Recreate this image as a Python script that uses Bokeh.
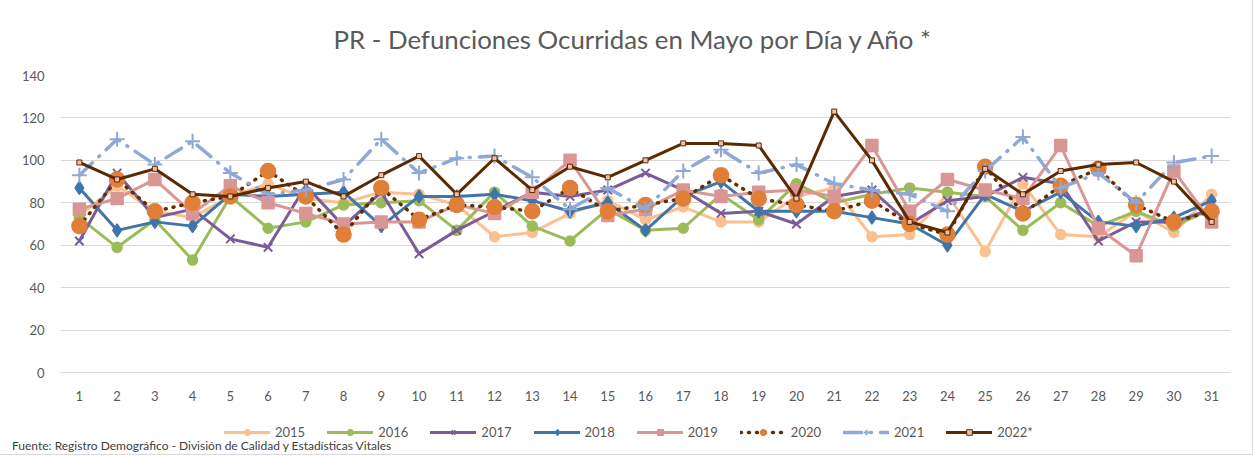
from bokeh.plotting import figure
from bokeh.layouts import column
from bokeh.models import Range1d, Legend, LegendItem, FixedTicker, Div
from bokeh.embed import file_html
from bokeh.resources import INLINE

days = list(range(1, 32))
y_ticks = [0, 20, 40, 60, 80, 100, 120, 140]

s2015 = [74, 88, 76, 73, 83, 89, 82, 80, 85, 84, 79, 64, 66, 75, 81, 72, 78, 71, 71, 83, 87, 64, 65, 84, 57, 89, 65, 64, 76, 66, 84]
s2016 = [73, 59, 72, 53, 83, 68, 71, 79, 80, 81, 67, 85, 69, 62, 77, 67, 68, 84, 72, 89, 80, 84, 87, 85, 83, 67, 80, 69, 76, 69, 77]
s2017 = [62, 94, 73, 77, 63, 59, 88, 69, 85, 56, 67, 76, 85, 83, 86, 94, 86, 75, 76, 70, 83, 86, 70, 81, 83, 92, 89, 62, 71, 71, 77]
s2018 = [87, 67, 71, 69, 84, 83, 84, 85, 69, 83, 83, 84, 81, 76, 80, 67, 83, 90, 76, 76, 76, 73, 70, 60, 84, 76, 85, 71, 69, 73, 81]
s2019 = [77, 82, 91, 75, 88, 80, 75, 70, 71, 71, 79, 75, 85, 100, 74, 77, 86, 83, 85, 86, 83, 107, 76, 91, 86, 82, 107, 68, 55, 95, 71]
s2020 = [69, 91, 76, 80, 83, 95, 83, 65, 87, 72, 79, 78, 76, 87, 76, 79, 82, 93, 82, 79, 76, 81, 70, 65, 97, 75, 88, 96, 79, 71, 76]
s2021 = [93, 110, 98, 109, 94, 84, 86, 91, 110, 94, 101, 102, 92, 77, 87, 77, 95, 105, 94, 98, 89, 86, 84, 76, 95, 111, 87, 94, 80, 99, 102]
s2022 = [99, 91, 96, 84, 83, 87, 90, 83, 93, 102, 84, 101, 86, 97, 92, 100, 108, 108, 107, 82, 123, 100, 71, 66, 96, 84, 95, 98, 99, 90, 71]
source_note = "Fuente: Registro Demográfico - División de Calidad y Estadísticas Vitales"

FONT = "Lato"
GRAY = "#595959"

p = figure(frame_width=1170, frame_height=297, output_backend="svg", toolbar_location=None,
           x_range=Range1d(0.5, 31.5), y_range=Range1d(0, 140),
           min_border_left=60, min_border_right=22, min_border_top=75, min_border_bottom=38)
p.outline_line_color = None
p.background_fill_color = "white"
p.border_fill_color = "white"

p.title.text = "PR - Defunciones Ocurridas en Mayo por Día y Año *"
p.title.align = "left"
p.title.text_font = FONT
p.title.text_font_size = "25.8px"
p.title.text_font_style = "normal"
p.title.text_color = GRAY
p.title.offset = 273
p.title.standoff = 43

p.xaxis.ticker = FixedTicker(ticks=days)
p.yaxis.ticker = FixedTicker(ticks=y_ticks)
for ax in (p.xaxis, p.yaxis):
    ax.major_tick_line_color = None
    ax.minor_tick_line_color = None
    ax.major_label_text_font = FONT
    ax.major_label_text_font_size = "13px"
    ax.major_label_text_color = GRAY
p.yaxis.axis_line_color = None
p.xaxis.axis_line_color = "#d9d9d9"
p.yaxis.major_label_standoff = 10
p.xaxis.major_label_standoff = 12
p.xgrid.grid_line_color = None
p.ygrid.grid_line_color = "#d9d9d9"

# legend strip: its own small figure; the same series are plotted there but fall
# outside its ranges, so only the legend is visible
lg = figure(frame_width=1252, frame_height=30, output_backend="svg", toolbar_location=None,
            x_range=Range1d(100, 101), y_range=Range1d(1000, 1001),
            x_axis_location=None, y_axis_location=None, min_border=0)
lg.outline_line_color = None
lg.xgrid.grid_line_color = None
lg.ygrid.grid_line_color = None

items = []

def series(vals, label, color, lw, dash, marker, msize, mfill, mline, mlw=1.5):
    for fig in (p, lg):
        r = [fig.line(days, vals, line_color=color, line_width=lw, line_dash=dash, line_cap="round", line_join="round")]
        if marker:
            r.append(fig.scatter(days, vals, marker=marker, size=msize, fill_color=mfill, line_color=mline, line_width=mlw))
    items.append(LegendItem(label=label, renderers=r))

series(s2015, "2015", "#FAC090", 3, "solid", "circle", 10, "#FAC090", "#FAC090")
series(s2016, "2016", "#9BBB59", 3, "solid", "circle", 10, "#9BBB59", "#9BBB59")
series(s2017, "2017", "#7A5C99", 3, "solid", "x", 12, None, "#7A5C99", 2)
series(s2018, "2018", "#4174AA", 3, "solid", "diamond", 13, "#4174AA", "#4174AA")
series(s2019, "2019", "#DA9694", 3, "solid", "square", 12, "#DA9694", "#DA9694")
series(s2020, "2020", "#632E00", 3.5, "1 7", "circle", 15, "#E07F38", "#E07F38")
series(s2021, "2021", "#8EA9D8", 3.5, "18 9 1 9", "cross", 15, None, "#8EA9D8", 2)
series(s2022, "2022*", "#5C2A00", 3, "solid", "square", 5, "#F2C0A8", "#5C2A00", 1)

legend = Legend(items=items, orientation="horizontal", location=(224, 0),
                label_text_font=FONT, label_text_font_size="13px", label_text_color=GRAY,
                glyph_width=46, glyph_height=14, label_height=16, spacing=22, label_standoff=5,
                border_line_color=None, background_fill_alpha=0, padding=2, margin=0)
lg.add_layout(legend)

src = Div(text=source_note, width=600, height=14, margin=(0, 0, 0, 12),
          styles={"font-family": FONT, "font-size": "12px", "color": "#404040", "line-height": "12px"})

layout = column(p, lg, src, spacing=0)
layout.styles = {"outline": "1px solid #d9d9d9"}

open("out.html", "w").write(file_html(layout, INLINE))
